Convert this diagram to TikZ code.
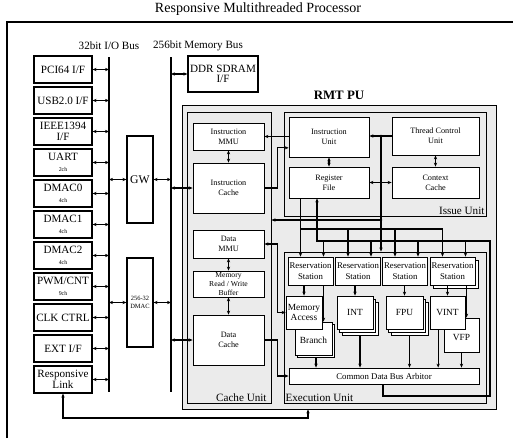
\documentclass[tikz,border=0pt]{standalone}
\usepackage{fontspec}
\setmainfont{Liberation Serif}
\usetikzlibrary{arrows.meta}
\newcommand{\setfs}[2]{\fontsize{#1}{#2}\selectfont}
\newcommand{\chfs}{\setfs{5}{6}}
\tikzset{
  sz/.style 2 args={minimum width=#1*0.3mm,minimum height=#2*0.3mm},
  blk/.style={draw,line width=1pt,fill=white,inner sep=0pt,align=center},
  io/.style={blk,font=\setfs{9.5}{9}},
  cell/.style={draw,line width=0.7pt,fill=white,inner sep=0pt,align=center,font=\setfs{7}{8.5}},
  rsv/.style={cell,sz={45}{28},font=\setfs{7.5}{9}},
  exe/.style={cell,font=\setfs{8}{9}},
  unit/.style={draw,line width=0.8pt,inner sep=0pt},
  unitlbl/.style={inner sep=1.5pt,font=\setfs{9.5}{10}},
  bus/.style={line width=1.7pt},
  link/.style={line width=0.9pt}
}

\begin{document}
\begin{tikzpicture}[x=0.03cm,y=-0.03cm,>={Stealth[length=1.2mm,width=1mm]}]
\useasboundingbox (0,0) rectangle (515,442);

% frame and title
\draw[line width=1.1pt] (7,438) -- (7,22) -- (513,22);
\node[font=\setfs{12}{12}] (title) at (258,9) {Responsive Multithreaded Processor};

% the two buses
\coordinate (iotop) at (109,57);
\coordinate (iobot) at (109,392);
\coordinate (memtop) at (171,57);
\coordinate (membot) at (171,392);
\draw[bus] (iotop) -- (iobot);
\draw[bus] (memtop) -- (membot);
\node[font=\setfs{9.5}{10}] (iolbl) at (109,46) {32bit I/O Bus};
\node[font=\setfs{9.5}{10}] (memlbl) at (198,46) {256bit Memory Bus};

% peripherals on the I/O bus
\foreach \nm/\txt [count=\i from 0] in {pci/{PCI64 I/F},usb/{USB2.0 I/F},ieee/{IEEE1394\\I/F},
    uart/{UART\\{\chfs 2ch}},dmac0/{DMAC0\\{\chfs 4ch}},dmac1/{DMAC1\\{\chfs 4ch}},
    dmac2/{DMAC2\\{\chfs 4ch}},pwm/{PWM/CNT\\{\chfs 9ch}},clk/{CLK CTRL},ext/{EXT I/F},
    rlink/{Responsive\\Link}}{
  \node[io,sz={58}{27}] (\nm) at (63,69.5+31*\i) {\txt};
  \draw[link,<->] (\nm.east) -- (\nm.east -| iotop);
}

\node[blk,sz={26}{87},font=\setfs{10}{10}] (gw) at (140,179.5) {GW};
\node[blk,sz={26}{89},font=\setfs{5.5}{7}] (dma) at (140,302.5) {256-32\\DMAC};
\node[io,sz={70}{36}] (ddr) at (223,74) {DDR SDRAM\\I/F};
\draw[link,<->] (gw.west -| iotop) -- (gw.west);
\draw[link,<->] (gw.east) -- (gw.east -| memtop);
\draw[link,<->] (dma.west -| iotop) -- (dma.west);
\draw[link,<->] (dma.east) -- (dma.east -| memtop);
\draw[link,<->] (ddr.west -| memtop) -- (ddr.west);

% RMT PU and its units
\node[draw,line width=0.7pt,fill=black!8,sz={314}{304}] (rmt) at (339,257) {};
\node[above=1pt,font=\setfs{11}{12}\bfseries] (rmtlbl) at (rmt.north) {RMT PU};
\node[unit,sz={84}{291}] (cau) at (229,257.5) {};
\node[unit,sz={202}{104}] (isu) at (385,164) {};
\node[unit,sz={202}{151}] (exu) at (385,327.5) {};
\node[unitlbl,anchor=south east,inner xsep=4pt] (caulbl) at (cau.south east) {Cache Unit};
\node[unitlbl,anchor=south east] (isulbl) at (isu.south east) {Issue Unit};
\node[unitlbl,anchor=south west] (exulbl) at (exu.south west) {Execution Unit};

% cache unit
\node[cell,sz={71}{27}] (imm) at (228.5,136.5) {Instruction\\MMU};
\node[cell,sz={71}{50}] (ica) at (228.5,188) {Instruction\\Cache};
\node[cell,sz={71}{28}] (dmm) at (228.5,244) {Data\\MMU};
\node[cell,sz={71}{26},font=\setfs{6.5}{8}] (mrw) at (228.5,284) {Memory\\Read / Write\\Buffer};
\node[cell,sz={71}{50}] (dca) at (228.5,340) {Data\\Cache};

% issue unit
\node[cell,sz={80}{40}] (iu) at (329,137) {Instruction\\Unit};
\node[cell,sz={80}{31}] (rf) at (329,182.5) {Register\\File};
\node[cell,sz={87}{38}] (tcu) at (435.5,136) {Thread Control\\Unit};
\node[cell,sz={87}{31}] (cc) at (435.5,182.5) {Context\\Cache};

% execution unit
\node[rsv] (rs1) at (310.5,271) {Reservation\\Station};
\node[rsv] (rs2) at (358,271) {Reservation\\Station};
\node[rsv] (rs3) at (405,271) {Reservation\\Station};
\node[rsv] (rs4b) at (455.5,274) {};
\node[rsv] (rs4) at (452.5,271) {Reservation\\Station};
\node[exe,sz={37}{33}] (brb) at (316,341) {};
\node[exe,sz={37}{33}] (br) at (313.5,338.5) {\\Branch};
\node[exe,sz={36}{33}] (ma) at (304,312.5) {Memory\\Access};
\node[exe,sz={36}{33}] (int3) at (360,318.5) {};
\node[exe,sz={36}{33}] (int2) at (357.5,315.5) {};
\node[exe,sz={36}{33}] (int) at (355,312.5) {INT};
\node[exe,sz={37}{33}] (fpu3) at (409.5,318.5) {};
\node[exe,sz={37}{33}] (fpu2) at (407,315.5) {};
\node[exe,sz={37}{33}] (fpu) at (404.5,312.5) {FPU};
\node[exe,sz={35}{34}] (vfp) at (461.5,335) {\\VFP};
\node[exe,sz={35}{33}] (vint) at (447.5,312.5) {VINT};
\node[cell,sz={190}{16},font=\setfs{7.5}{8}] (cdb) at (384,376) {Common Data Bus Arbitor};

% memory bus to caches
\draw[link,<->] (ica.west -| memtop) -- (ica.west);
\draw[link,<->] (dca.west -| memtop) -- (dca.west);
\draw[link,<->] (imm.south) -- (ica.north);
\draw[link,<->] (dmm.south) -- (mrw.north);
\draw[link,<->] (mrw.south) -- (dca.north);

% issue side
\draw[link,->] (imm.east -| iu.west) -- (imm.east);
\draw[link,->] (ica.east) -- ++(13,0) |- (iu.195);
\draw[link,<->] (iu.south) -- (rf.north);
\draw[link,<->] (tcu.south) -- (cc.north);
\draw[link,<->] (rf.east) -- (cc.west);
\draw[link,->] (tcu.west) -- (tcu.west -| iu.east);
\coordinate (tap) at (381,136);
\coordinate (tapc) at (381,220);
\draw[link,->] (tap) -- (tap |- exu.north);
\draw[link,->] (tapc) -- (tapc -| cau.east);
\fill (tap) circle (1.2pt);
\fill (tapc) circle (1.2pt);
\fill (tap |- rf.east) circle (1.2pt);

% operands to the reservation stations
\coordinate (opbus) at (0,229);
\coordinate (cdbbus) at (0,241);
\draw[link] ([xshift=-3mm]rs1.north |- rf.south) -- ([xshift=-3mm]rs1.north |- opbus)
  -- ([xshift=-3mm]rs4.north |- opbus);
\foreach \n in {rs1,rs2,rs3,rs4}{
  \draw[link,->] ([xshift=-3mm]\n.north |- opbus) -- ([xshift=-3mm]\n.north);
  \draw[link,->] ([xshift=3.9mm]\n.north |- cdbbus) -- ([xshift=3.9mm]\n.north);
}

% result loop from the arbitor
\coordinate (cdbout) at (383,396);
\coordinate (cdbret) at (490,241);
\coordinate (rfin) at (317,241);
\draw[link,->] (cdb.south -| cdbout) -- (cdbout) -| (cdbret) -- (rfin) -- (rfin |- rf.south);

% stations to units, units to arbitor
\draw[link,->] (ma.north |- rs1.south) -- (ma.north);
\draw[link,->] ([xshift=3.9mm]rs1.south) -- ([xshift=3.9mm]rs1.south |- br.north);
\draw[link,->] (int.north |- rs2.south) -- (int.north);
\draw[link,->] (fpu.north |- rs3.south) -- (fpu.north);
\draw[link,->] (vint.north |- rs4.south) -- (vint.north);
\draw[link,->] ([xshift=4.2mm]rs4.south) -- ([xshift=4.2mm]rs4.south |- vfp.north);
\draw[link,->] (brb.south) -- (brb.south |- cdb.north);
\draw[link,->] (int3.south) -- (int3.south |- cdb.north);
\draw[link,->] (fpu3.south) -- (fpu3.south |- cdb.north);
\draw[link,->] ([xshift=-2.8mm]vint.south) -- ([xshift=-2.8mm]vint.south |- cdb.north);
\draw[link,->] (vfp.south) -- (vfp.south |- cdb.north);

% data side
\draw[link,<->] (dmm.east) -- ++(13,0) |- (ma.west);
\draw[link,->] (dca.east) -- ++(13,0) |- (cdb.west);

% responsive link back to the processor
\coordinate (rlret) at (308,418);
\draw[link,<->] (rlink.south) |- (rlret) -- (rlret |- rmt.south);
\end{tikzpicture}
\end{document}
